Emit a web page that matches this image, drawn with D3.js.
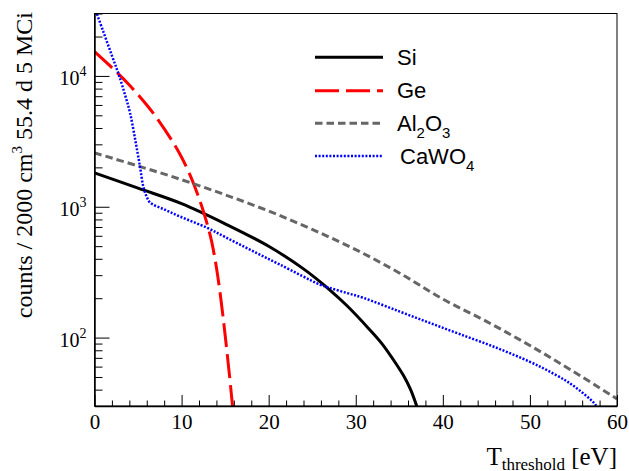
<!DOCTYPE html>
<html>
<head>
<meta charset="utf-8">
<script src="https://cdn.jsdelivr.net/npm/d3@7"></script>
<style>
  body { margin: 0; background: #fff; }
  svg { display: block; }
</style>
</head>
<body>
<script>
// threshold energies [eV] and counts
var siE = [0, 5, 10, 15, 20, 24, 27, 29, 31.6, 33, 34.3, 35.5, 36.3, 37, 37.5];
var siCounts = [1818, 1387, 1056, 741, 499, 335, 232, 175, 115, 90, 68, 51, 40, 30, 24];

var geE = [0, 2, 4, 6, 7.14, 9, 10, 11, 12, 12.5, 13, 13.45, 14, 14.5, 15, 15.5, 15.8, 16];
var geCounts = [15330, 11570, 8520, 6000, 4780, 3120, 2388, 1730, 1164, 925, 713, 544, 343, 200, 104.7, 51.4, 32.4, 23.7];

var alE = [0, 5, 10, 15, 20, 25, 30, 35, 40, 45, 50, 55, 60];
var alCounts = [2580, 2050, 1610, 1235, 927, 671, 470, 312, 197, 133, 87, 55, 34];

var caE = [0, 1, 2, 2.73, 3.5, 4.08, 4.7, 5.22, 5.6, 6.0, 6.4, 8, 9.8, 12.9, 15, 17.85, 21.3, 25.9, 27, 29, 30.9, 35, 38.5, 42, 46.2, 50, 52, 54, 55, 56, 57, 57.5, 58];
var caCounts = [33500, 21900, 14300, 10490, 7190, 5220, 3190, 2032, 1430, 1189, 1074, 955, 843, 692, 587, 470, 361, 254, 240, 219, 201, 158.5, 129.5, 106, 83.4, 65.3, 56.2, 47.4, 42.8, 38.1, 33.4, 30.8, 26.8];

var xMajor = [0, 10, 20, 30, 40, 50, 60];
var yMajor = [100, 1000, 10000];
var yLabels = ["2", "3", "4"];

var width = 629,
    height = 471;

var series = [
  { name: "Si", e: siE, c: siCounts, color: "#000", width: 3, dash: null },
  { name: "Ge", e: geE, c: geCounts, color: "#ff0000", width: 3, dash: "24,7" },
  { name: "Al2O3", e: alE, c: alCounts, color: "#666", width: 3, dash: "7.5,4" },
  { name: "CaWO4", e: caE, c: caCounts, color: "#0000ff", width: 2.5, dash: "2,1.6" }
];

var svg = d3.select("body")
    .append("svg")
    .attr("width", width)
    .attr("height", height);

svg.append("rect").attr("width", width).attr("height", height).attr("fill", "#fff");

var pLeft = 94.5, pRight = 617, pTop = 13.5, pBottom = 406;

var x = d3.scaleLinear().domain([0, 60]).range([pLeft, pRight]);
var y = d3.scaleLog().domain([30, 30000]).range([pBottom, pTop]);

svg.append("clipPath").attr("id", "plot")
  .append("rect")
  .attr("x", pLeft).attr("y", pTop)
  .attr("width", pRight - pLeft).attr("height", pBottom - pTop);

// curves
var line = d3.line()
    .x(function(d) { return x(d[0]); })
    .y(function(d) { return y(d[1]); })
    .curve(d3.curveCatmullRom.alpha(0.5));

var curves = svg.append("g").attr("clip-path", "url(#plot)");
series.forEach(function(s) {
  var pts = s.e.map(function(e, i) { return [e, s.c[i]]; });
  curves.append("path")
    .datum(pts)
    .attr("d", line)
    .attr("fill", "none")
    .attr("stroke", s.color)
    .attr("stroke-width", s.width)
    .attr("stroke-dasharray", s.dash);
});

// frame
svg.append("rect")
  .attr("x", pLeft).attr("y", pTop)
  .attr("width", pRight - pLeft).attr("height", pBottom - pTop)
  .attr("fill", "none")
  .attr("stroke", "#000")
  .attr("stroke-width", 1);

// x axis
var xMinor = d3.range(0, 61, 2).filter(function(v) { return v % 10 != 0; });

svg.append("g")
  .attr("transform", "translate(0," + pBottom + ")")
  .call(d3.axisBottom(x).tickValues(xMinor).tickSize(-5.5).tickFormat(""))
  .call(function(g) { g.select(".domain").remove(); });

var xAxis = svg.append("g")
  .attr("transform", "translate(0," + pBottom + ")")
  .call(d3.axisBottom(x).tickValues(xMajor).tickSize(-11).tickPadding(8).tickSizeOuter(0));
xAxis.select(".domain").attr("stroke-width", 1.5);
xAxis.selectAll("text")
  .style("font-family", "'Liberation Serif', serif")
  .style("font-size", "21px")
  .attr("fill", "#000");

// y axis
var yMinor = [];
[10, 100, 1000, 10000].forEach(function(dec) {
  for (var k = 2; k <= 9; k++) {
    var v = k * dec;
    if (v >= 30 && v <= 30000) yMinor.push(v);
  }
});

svg.append("g")
  .attr("transform", "translate(" + pLeft + ",0)")
  .call(d3.axisLeft(y).tickValues(yMinor).tickSize(-8).tickFormat(""))
  .call(function(g) { g.select(".domain").remove(); });

var yAxis = svg.append("g")
  .attr("transform", "translate(" + pLeft + ",0)")
  .call(d3.axisLeft(y).tickValues(yMajor).tickSize(-15).tickPadding(8).tickSizeOuter(0).tickFormat(""));
yAxis.select(".domain").attr("stroke-width", 1.5);

yAxis.selectAll(".tick text")
  .attr("x", -8)
  .attr("dy", "0.45em")
  .style("font-family", "'Liberation Serif', serif")
  .style("font-size", "20px")
  .attr("fill", "#000")
  .each(function(d, i) {
    var t = d3.select(this);
    t.append("tspan").text("10");
    t.append("tspan").attr("dy", -9).style("font-size", "14px").text(yLabels[i]);
  });

// axis titles
var yTitle = svg.append("text")
  .attr("transform", "translate(32,12) rotate(-90)")
  .attr("text-anchor", "end")
  .style("font-family", "'Liberation Serif', serif")
  .style("font-size", "24px");
yTitle.append("tspan").text("counts / 2000 cm");
yTitle.append("tspan").attr("dy", -10).style("font-size", "15px").text("3");
yTitle.append("tspan").attr("dy", 10).text(" 55.4 d 5 MCi");

var xTitle = svg.append("text")
  .attr("x", pRight)
  .attr("y", 465)
  .attr("text-anchor", "end")
  .style("font-family", "'Liberation Serif', serif")
  .style("font-size", "25px");
xTitle.append("tspan").text("T");
xTitle.append("tspan").attr("dy", 5).style("font-size", "17px").text("threshold");
xTitle.append("tspan").attr("dy", -5).text(" [eV]");

// legend
var legendY = [57.3, 90.7, 123.3, 156];
var legend = svg.append("g");
series.forEach(function(s, i) {
  legend.append("line")
    .attr("x1", 315).attr("x2", 383)
    .attr("y1", legendY[i]).attr("y2", legendY[i])
    .attr("stroke", s.color)
    .attr("stroke-width", s.width)
    .attr("stroke-dasharray", s.dash);
});

function legendText(i, xPos, parts) {
  var t = legend.append("text")
    .attr("x", xPos)
    .attr("y", legendY[i] + 7.5)
    .style("font-family", "'Liberation Sans', Arial, sans-serif")
    .style("font-size", "22px");
  var shift = 0;
  parts.forEach(function(p) {
    var sub = p[1];
    var dy = sub ? 7 - shift : -shift;
    shift = sub ? 7 : 0;
    t.append("tspan")
      .attr("dy", dy)
      .style("font-size", sub ? "15px" : "22px")
      .text(p[0]);
  });
}

legendText(0, 397, [["Si", false]]);
legendText(1, 397, [["Ge", false]]);
legendText(2, 397, [["Al", false], ["2", true], ["O", false], ["3", true]]);
legendText(3, 400, [["CaWO", false], ["4", true]]);
</script>
</body>
</html>
